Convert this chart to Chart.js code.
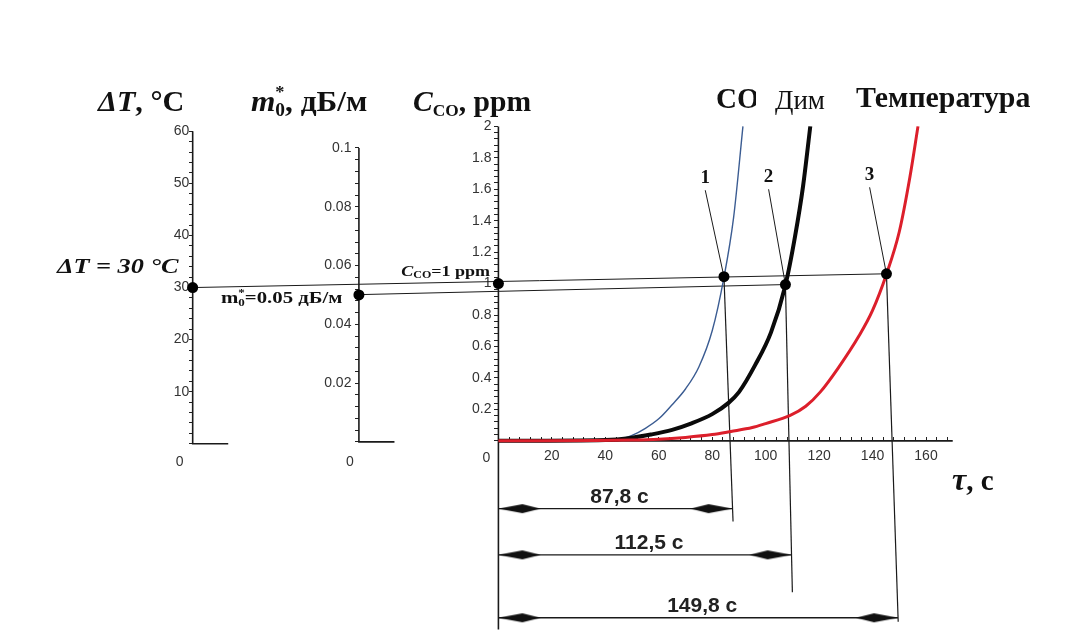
<!DOCTYPE html>
<html>
<head>
<meta charset="utf-8">
<script src="https://cdn.jsdelivr.net/npm/chart.js@4.4.0/dist/chart.umd.min.js"></script>
<style>
  html, body { margin: 0; padding: 0; background: #fff; }
  #wrap { width: 1077px; height: 638px; position: relative; }
</style>
</head>
<body>
<div id="wrap"><canvas id="myChart"></canvas></div>
<script>
// ---- data ----

// curve 1: CO concentration, ppm
const co_time = [0, 45, 50, 55, 60, 65, 70, 75, 80, 84.4, 88, 91.5];
const co_ppm = [0, 0.01, 0.035, 0.08, 0.14, 0.23, 0.33, 0.47, 0.7, 1.04, 1.42, 2.0];

// curve 2: smoke (Дим), plotted on the same normalised scale
const smoke_time = [0, 40, 50, 57, 65, 72, 80, 86, 90, 96, 102, 107.4, 111, 114, 116.7];
const smoke_val = [0, 0.005, 0.02, 0.04, 0.07, 0.11, 0.17, 0.24, 0.31, 0.48, 0.69, 0.99, 1.3, 1.62, 2.0];

// curve 3: temperature, same normalised scale
const temp_time = [0, 50, 60, 70, 80, 87, 95, 100, 109, 115, 120.4, 127, 135, 140, 145.2, 150, 154, 157];
const temp_val = [0, 0.005, 0.01, 0.022, 0.04, 0.06, 0.085, 0.11, 0.16, 0.22, 0.31, 0.46, 0.67, 0.83, 1.06, 1.33, 1.68, 2.0];

// thresholds
const dt_threshold = 30;      // °C
const m0_threshold = 0.05;    // дБ/м
const co_threshold = 1;       // ppm

// crossing points 1, 2, 3 (as drawn)
const cross_names = ['1', '2', '3'];
const cross_time = [84.4, 107.4, 145.2];
const cross_level = [1.044, 0.994, 1.0625];
// where the drop lines end below the axis
const drop_time = [87.8, 110, 149.6];
const drop_level = [-0.5125, -0.9625, -1.15];
// dimension lines under the axis
const dim_level = [-0.431, -0.725, -1.125];
const dim_end = [87.6, 109.7, 149.5];
const dim_labels = ['87,8 c', '112,5 c', '149,8 c'];
// leader lines to the numbers 1, 2, 3
const leader_time = [77.4, 101.1, 138.9];
const leader_level = [1.594, 1.6, 1.6125];

// tick labels
const x_labels = [20, 40, 60, 80, 100, 120, 140, 160];
const co_labels = [0.2, 0.4, 0.6, 0.8, 1, 1.2, 1.4, 1.6, 1.8, 2];
const dt_labels = [10, 20, 30, 40, 50, 60];
const m0_labels = [0.02, 0.04, 0.06, 0.08, 0.1];

// where the extra vertical axes stand, in seconds on the time scale
const DT_AXIS = -114.4;
const M0_AXIS = -52.2;
const DT_FOOT = -101.1;
const M0_FOOT = -38.9;

// ---- helpers ----
const xy = (xs, ys) => xs.map((v, i) => ({ x: v, y: ys[i] }));

const steps = (from, to, step) => {
    let out = [];
    const n = Math.round((to - from) / step);
    for (let i = 0; i <= n; i++) {
        out.push(Math.round((from + i * step) * 10000) / 10000);
    }
    return out;
};

const isIn = (list, v) => list.some(l => Math.abs(l - v) < 1e-6);

const arrow = (dir) => {
    // long thin arrow head, the tip sits in the middle of the canvas
    const c = document.createElement('canvas');
    c.width = 100; c.height = 11;
    const g = c.getContext('2d');
    g.fillStyle = '#111';
    g.beginPath();
    if (dir < 0) {
        g.moveTo(50, 5.5); g.lineTo(74, 1); g.lineTo(92, 5.5); g.lineTo(74, 10);
    } else {
        g.moveTo(50, 5.5); g.lineTo(26, 1); g.lineTo(8, 5.5); g.lineTo(26, 10);
    }
    g.closePath();
    g.fill();
    return c;
};
const leftArrow = arrow(-1);
const rightArrow = arrow(1);

const line = (points, yAxisID, extra) => Object.assign({
    data: points, xAxisID: 'x', yAxisID: yAxisID,
    borderColor: '#1a1a1a', borderWidth: 1.2, pointRadius: 0,
    fill: false, tension: 0
}, extra || {});

const dot = (points, yAxisID) => ({
    data: points, xAxisID: 'x', yAxisID: yAxisID, showLine: false,
    pointRadius: 5.5, pointBackgroundColor: '#000', pointBorderColor: '#000',
    pointBorderWidth: 0
});

const fixTicks = (list) => (scale) => {
    scale.ticks = list.map(v => ({ value: v }));
};
const noPad = (scale) => {
    scale.paddingTop = 0; scale.paddingBottom = 0;
    scale.paddingLeft = 0; scale.paddingRight = 0;
};

// ---- datasets (first in the list is drawn on top) ----
let datasets = [];

// dots
datasets.push(dot([{ x: DT_AXIS, y: dt_threshold }], 'yT'));
datasets.push(dot([{ x: M0_AXIS, y: m0_threshold }], 'yM'));
datasets.push(dot([{ x: 0, y: co_threshold }], 'yC'));
datasets.push(dot(xy(cross_time, cross_level), 'yC'));

// curves
datasets.push(line(xy(temp_time, temp_val), 'yC',
    { borderColor: '#dc1f2b', borderWidth: 3, cubicInterpolationMode: 'monotone' }));
datasets.push(line(xy(smoke_time, smoke_val), 'yC',
    { borderColor: '#0a0a0a', borderWidth: 4, cubicInterpolationMode: 'monotone' }));
datasets.push(line(xy(co_time, co_ppm), 'yC',
    { borderColor: '#3b5c92', borderWidth: 1.4, cubicInterpolationMode: 'monotone' }));

// threshold lines
datasets.push(line([{ x: DT_AXIS, y: 0.975 }, { x: cross_time[2], y: cross_level[2] }], 'yC',
    { borderWidth: 1 }));
datasets.push(line([{ x: M0_AXIS, y: 0.93 }, { x: cross_time[1], y: cross_level[1] }], 'yC',
    { borderWidth: 1 }));

// drop lines, leaders, dimension lines
cross_time.forEach(function(t, i) {
    datasets.push(line([{ x: t, y: cross_level[i] }, { x: drop_time[i], y: drop_level[i] }], 'yC',
        { borderWidth: 1.2 }));
    datasets.push(line([{ x: leader_time[i], y: leader_level[i] }, { x: t, y: cross_level[i] }], 'yC',
        { borderWidth: 1 }));
    datasets.push(line([{ x: 0, y: dim_level[i] }, { x: dim_end[i], y: dim_level[i] }], 'yC',
        { borderWidth: 1.3, pointRadius: 1, pointStyle: [leftArrow, rightArrow] }));
});

// axis lines
datasets.push(line([{ x: DT_AXIS, y: 60 }, { x: DT_AXIS, y: 0 }, { x: DT_FOOT, y: 0 }], 'yT',
    { borderWidth: 1.6 }));
datasets.push(line([{ x: M0_AXIS, y: 0.1 }, { x: M0_AXIS, y: 0 }, { x: M0_FOOT, y: 0 }], 'yM',
    { borderWidth: 1.6 }));
datasets.push(line([{ x: 0, y: 2 }, { x: 0, y: -1.2 }], 'yC', { borderWidth: 1.6 }));
datasets.push(line([{ x: 0, y: 0 }, { x: 170, y: 0 }], 'yC', { borderWidth: 1.6 }));

// ---- text drawn on top ----
const SERIF = '"Liberation Serif", "DejaVu Serif", serif';
const SANS = '"Liberation Sans", Arial, sans-serif';
const B = (s) => 'bold ' + s + 'px ' + SERIF;
const BI = (s) => 'italic bold ' + s + 'px ' + SERIF;

// parts: [text, font, dy, noAdvance]; hs stretches the text sideways
const drawRich = (ctx, x, y, parts, align, hs) => {
    hs = hs || 1;
    let w = 0;
    parts.forEach(function(p) {
        ctx.font = p[1];
        if (!p[3]) w += ctx.measureText(p[0]).width;
    });
    let cx = 0;
    if (align === 'right') cx = -w;
    if (align === 'center') cx = -w / 2;
    ctx.save();
    ctx.translate(x, y);
    ctx.scale(hs, 1);
    parts.forEach(function(p) {
        ctx.font = p[1];
        ctx.fillText(p[0], cx, p[2] || 0);
        if (!p[3]) cx += ctx.measureText(p[0]).width;
    });
    ctx.restore();
};

const textPlugin = {
    id: 'texts',
    afterDraw(chart) {
        const ctx = chart.ctx;
        const sx = chart.scales.x, sc = chart.scales.yC, st = chart.scales.yT, sm = chart.scales.yM;
        ctx.save();
        ctx.fillStyle = '#111';
        ctx.textBaseline = 'alphabetic';
        ctx.textAlign = 'left';

        // axis titles
        drawRich(ctx, 98, 111, [['ΔT', BI(29)], [', °C', B(29)]], 'left', 1.04);
        drawRich(ctx, 251, 111, [['m', BI(29)], ['*', B(17), -14, true], ['0', B(18), 5], [', дБ/м', B(29)]], 'left', 1.08);
        drawRich(ctx, 413, 111, [['C', BI(29)], ['CO', B(17), 5], [', ppm', B(29)]], 'left', 1.02);

        // curve names
        drawRich(ctx, 716, 108, [['CO', B(29)]]);
        ctx.fillStyle = '#fff';
        ctx.fillRect(756, 72, 96, 51);
        ctx.fillStyle = '#111';
        drawRich(ctx, 775, 109, [['Дим', '27px ' + SERIF]]);
        drawRich(ctx, 856, 107, [['Температура', B(29)]], 'left', 1.03);

        // threshold notes
        drawRich(ctx, 57, 273, [['ΔT = 30 °C', BI(21)]], 'left', 1.25);
        drawRich(ctx, 221, 303, [['m', B(16)], ['*', B(10), -7, true], ['0', B(10), 3], ['=0.05 дБ/м', B(16)]], 'left', 1.3);
        drawRich(ctx, 490, 276, [['C', BI(15)], ['CO', B(10), 2], ['=1 ppm', B(15)]], 'right', 1.2);

        // numbers 1, 2, 3
        cross_names.forEach(function(n, i) {
            const px = sx.getPixelForValue(leader_time[i]);
            const py = sc.getPixelForValue(leader_level[i]);
            drawRich(ctx, px, py - 7, [[n, B(19)]], 'center');
        });

        // dimension labels
        ctx.fillStyle = '#222';
        dim_labels.forEach(function(s, i) {
            const px = sx.getPixelForValue(dim_end[i] / 2) + 4;
            const py = sc.getPixelForValue(dim_level[i]);
            drawRich(ctx, px, py - 6, [[s, 'bold 21px ' + SANS]], 'center');
        });

        // zero labels at the three origins
        ctx.fillStyle = '#333';
        const zf = '14px ' + SANS;
        drawRich(ctx, sx.getPixelForValue(DT_AXIS) - 13, st.getPixelForValue(0) + 22, [['0', zf]], 'center');
        drawRich(ctx, sx.getPixelForValue(M0_AXIS) - 9, sm.getPixelForValue(0) + 24, [['0', zf]], 'center');
        drawRich(ctx, sx.getPixelForValue(0) - 12, sc.getPixelForValue(0) + 21, [['0', zf]], 'center');

        // time axis title
        ctx.fillStyle = '#111';
        drawRich(ctx, 952, 490, [['τ', BI(32)], [', c', B(29)]]);
        ctx.restore();
    }
};

// ---- scales ----
const tickFont = { family: SANS, size: 14 };
const gridOpts = { drawOnChartArea: false, drawTicks: true, tickLength: 4, tickColor: '#222', tickWidth: 1 };

// scale with tick marks only
const markScale = (pos, min, max, marks) => ({
    type: 'linear', axis: 'y', position: { x: pos }, min: min, max: max,
    afterBuildTicks: fixTicks(marks), afterFit: noPad,
    border: { display: false }, grid: gridOpts,
    ticks: { display: false, autoSkip: false }
});
// scale with labels only, set a little to the left of its axis
const labelScale = (pos, min, max, labels) => ({
    type: 'linear', axis: 'y', position: { x: pos }, min: min, max: max,
    afterBuildTicks: fixTicks(labels), afterFit: noPad,
    border: { display: false }, grid: { display: false },
    ticks: { autoSkip: false, padding: 0, color: '#333', font: tickFont, callback: (v) => String(v) }
});

Chart.defaults.font.family = SANS;

var ctx = document.getElementById('myChart').getContext('2d');
var chart = new Chart(ctx, {
    type: 'line',
    data: { datasets: datasets },
    options: {
        responsive: true,
        maintainAspectRatio: false,
        animation: false,
        events: [],
        layout: { padding: 0 },
        plugins: { legend: { display: false }, tooltip: { enabled: false }, title: { display: false } },
        scales: {
            x: {
                type: 'linear', position: { yC: 0 },
                min: -184.444, max: 214.444,
                afterBuildTicks: fixTicks(steps(0, 168, 4)),
                afterFit: noPad,
                border: { display: false },
                grid: Object.assign({}, gridOpts, { tickLength: -4 }),
                ticks: {
                    autoSkip: false, maxRotation: 0, minRotation: 0, padding: 11,
                    color: '#333', font: tickFont,
                    callback: (v) => isIn(x_labels, v) ? String(v) : ''
                }
            },
            yC: markScale(0, -1.21875, 2.76875, steps(0, 2, 0.04)),
            yCl: labelScale(-2.6, -1.21875, 2.76875, co_labels),
            yT: markScale(DT_AXIS, -36.226, 84.151, steps(0, 60, 2)),
            yTl: labelScale(DT_AXIS - 1.3, -36.226, 84.151, dt_labels),
            yM: markScale(M0_AXIS, -0.064883, 0.148495, steps(0, 0.1, 0.004)),
            yMl: labelScale(M0_AXIS - 2.8, -0.064883, 0.148495, m0_labels)
        }
    },
    plugins: [textPlugin]
});
</script>
</body>
</html>
